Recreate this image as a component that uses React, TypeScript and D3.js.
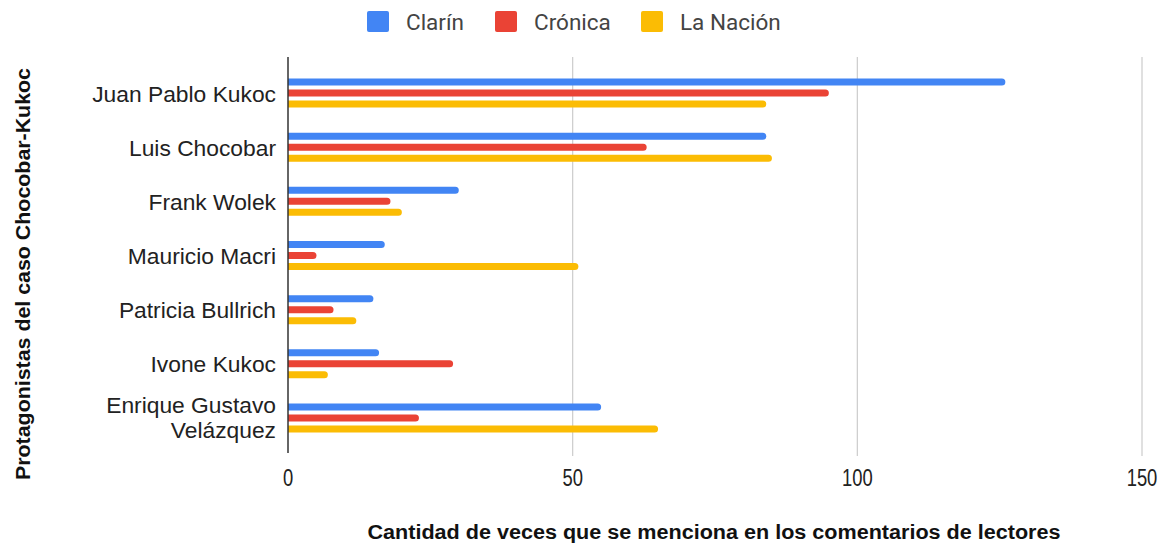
import * as d3 from "d3";
import React from "react";

// data
const people = [
  "Juan Pablo Kukoc",
  "Luis Chocobar",
  "Frank Wolek",
  "Mauricio Macri",
  "Patricia Bullrich",
  "Ivone Kukoc",
  "Enrique Gustavo Velázquez",
];
const seriesNames = ["Clarín", "Crónica", "La Nación"];
const clarin = [126, 84, 30, 17, 15, 16, 55];
const cronica = [95, 63, 18, 5, 8, 29, 23];
const laNacion = [84, 85, 20, 51, 12, 7, 65];
const xTicks = [0, 50, 100, 150];
const colors = ["#4285F4", "#EA4335", "#FBBC04"];

const W = 1170;
const H = 545;

const App = () => {
  const series = [clarin, cronica, laNacion];
  const x = d3.scaleLinear().domain([0, 150]).range([288, 1142]);
  const y = d3.scaleBand().domain(people).range([66, 445]).padding(0);
  const barH = 7;
  const gap = 11;
  const top = 57;
  const bottom = 456;

  // bar with rounded right end, square left end
  const barPath = (v: number, cy: number) => {
    const x0 = x(0);
    const x1 = x(v);
    const r = barH / 2;
    const p = d3.path();
    p.moveTo(x0, cy - r);
    p.lineTo(x1 - r, cy - r);
    p.arc(x1 - r, cy, r, -Math.PI / 2, Math.PI / 2);
    p.lineTo(x0, cy + r);
    p.closePath();
    return p.toString();
  };

  const legendX = [367, 495, 641];
  const labelFont = "'Liberation Sans', Arial, sans-serif";

  return (
    <svg
      width={W}
      height={H}
      style={{ position: "absolute", left: 0, top: 0, background: "#fff" }}
    >
      {/* legend */}
      {seriesNames.map((s, i) => (
        <g key={s}>
          <rect x={legendX[i]} y={11} width={22} height={21} rx={2} fill={colors[i]} />
          <text
            x={legendX[i] + 39}
            y={30}
            fontFamily="Roboto, Arial, sans-serif"
            fontSize={22.5}
            fill="#444"
          >
            {s}
          </text>
        </g>
      ))}

      {/* grid */}
      {xTicks.slice(1).map((t) => (
        <line key={t} x1={x(t)} x2={x(t)} y1={top} y2={bottom} stroke="#ccc" strokeWidth={1.2} />
      ))}

      {/* bars */}
      {people.map((p, i) => {
        const cy = (y(p) as number) + y.bandwidth() / 2;
        return (
          <g key={p}>
            {series.map((s, j) => (
              <path key={j} d={barPath(s[i], cy + (j - 1) * gap)} fill={colors[j]} />
            ))}
          </g>
        );
      })}

      {/* baseline */}
      <line x1={x(0)} x2={x(0)} y1={top} y2={bottom - 3} stroke="#333" strokeWidth={1.5} />

      {/* category labels */}
      {people.map((p) => {
        const cy = (y(p) as number) + y.bandwidth() / 2;
        if (p === "Enrique Gustavo Velázquez") {
          return (
            <text
              key={p}
              textAnchor="end"
              fontFamily={labelFont}
              fontSize={22.8}
              fill="#222"
            >
              <tspan x={276} y={cy - 5}>Enrique Gustavo</tspan>
              <tspan x={276} y={cy + 20}>Velázquez</tspan>
            </text>
          );
        }
        return (
          <text
            key={p}
            x={276}
            y={cy + 8.5}
            textAnchor="end"
            fontFamily={labelFont}
            fontSize={22.8}
            fill="#222"
          >
            {p}
          </text>
        );
      })}

      {/* x tick labels */}
      {xTicks.map((t) => (
        <text
          key={t}
          transform={`translate(${x(t)},486) scale(0.8,1)`}
          textAnchor="middle"
          fontFamily={labelFont}
          fontSize={23}
          fill="#222"
        >
          {t}
        </text>
      ))}

      {/* axis titles */}
      <text
        x={714}
        y={539}
        textAnchor="middle"
        fontFamily={labelFont}
        fontWeight="bold"
        fontSize={19.5}
        textLength={693}
        lengthAdjust="spacingAndGlyphs"
        fill="#111"
      >
        Cantidad de veces que se menciona en los comentarios de lectores
      </text>
      <text
        transform="translate(30,274) rotate(-90)"
        textAnchor="middle"
        fontFamily={labelFont}
        fontWeight="bold"
        fontSize={20}
        textLength={412}
        lengthAdjust="spacingAndGlyphs"
        fill="#111"
      >
        Protagonistas del caso Chocobar-Kukoc
      </text>
    </svg>
  );
};

export default App;
